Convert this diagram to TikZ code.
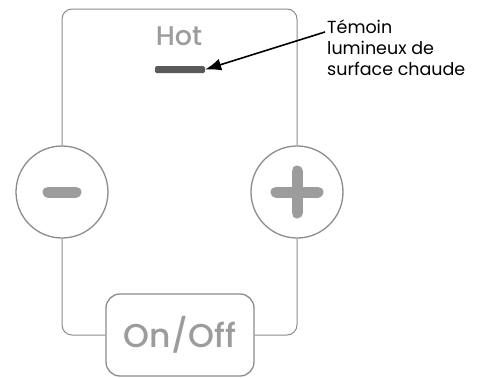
\documentclass[tikz,border=0pt]{standalone}
\usepackage{fontspec}
\setmainfont{Poppins}
\newfontfamily\keyfont{Poppins Medium}
\usetikzlibrary{arrows.meta,positioning}
\definecolor{frame}{HTML}{8C8C8C}
\definecolor{print}{HTML}{9C9C9C}
\definecolor{lamp}{HTML}{5A5A5A}
\tikzset{>=Latex,
  wire/.style={draw=frame,line width=1pt,rounded corners=10pt},
  knob/.style={circle,draw=frame,line width=1.3pt,fill=white,minimum size=92pt,inner sep=0pt},
  keybox/.style={draw=frame,line width=1.3pt,fill=white,rounded corners=14pt,
    minimum width=148pt,minimum height=82pt,inner sep=0pt,text=print,
    font=\keyfont\fontsize{33}{33}\selectfont},
  sign/.style={draw=print,line width=11pt,line cap=round},
  pointer/.style={-{Latex[length=16pt,width=12pt]},line width=1.6pt,draw=black},
  callout/.style={align=left,anchor=north west,inner sep=0pt,
    font=\fontsize{17.5}{21}\selectfont}}
\begin{document}
\begin{tikzpicture}[x=1pt,y=-1pt]
\useasboundingbox(0,0)rectangle(483,378);
\coordinate(top)at(0,9);
\node[knob](minus)at(62,192){};\node[knob](plus)at(297,192){};
\node[keybox](onoff)at(180,335){On/Off};
\draw[wire](minus.north)--(minus.north|-top)--(plus.north|-top)--(plus.north);
\draw[wire](minus.south)|-(onoff.west);\draw[wire](plus.south)|-(onoff.east);
\draw[sign](minus.center)++(-14,0)--++(28,0);
\draw[sign](plus.center)++(-21,0)--++(42,0);\draw[sign](plus.center)++(0,-21)--++(0,42);
\node[text=print,font=\keyfont\fontsize{27}{27}\selectfont](hot)at(179,36){Hot};
\node[fill=lamp,minimum width=50pt,minimum height=7pt,inner sep=0pt,rounded corners=1.5pt](hotbar)at(180,69.5){};
\node[callout](label)at(327,20){Témoin\\lumineux de\\surface chaude};
\coordinate(start)at(325,32);
\draw[pointer](start)--(hotbar.east);
\end{tikzpicture}
\end{document}
